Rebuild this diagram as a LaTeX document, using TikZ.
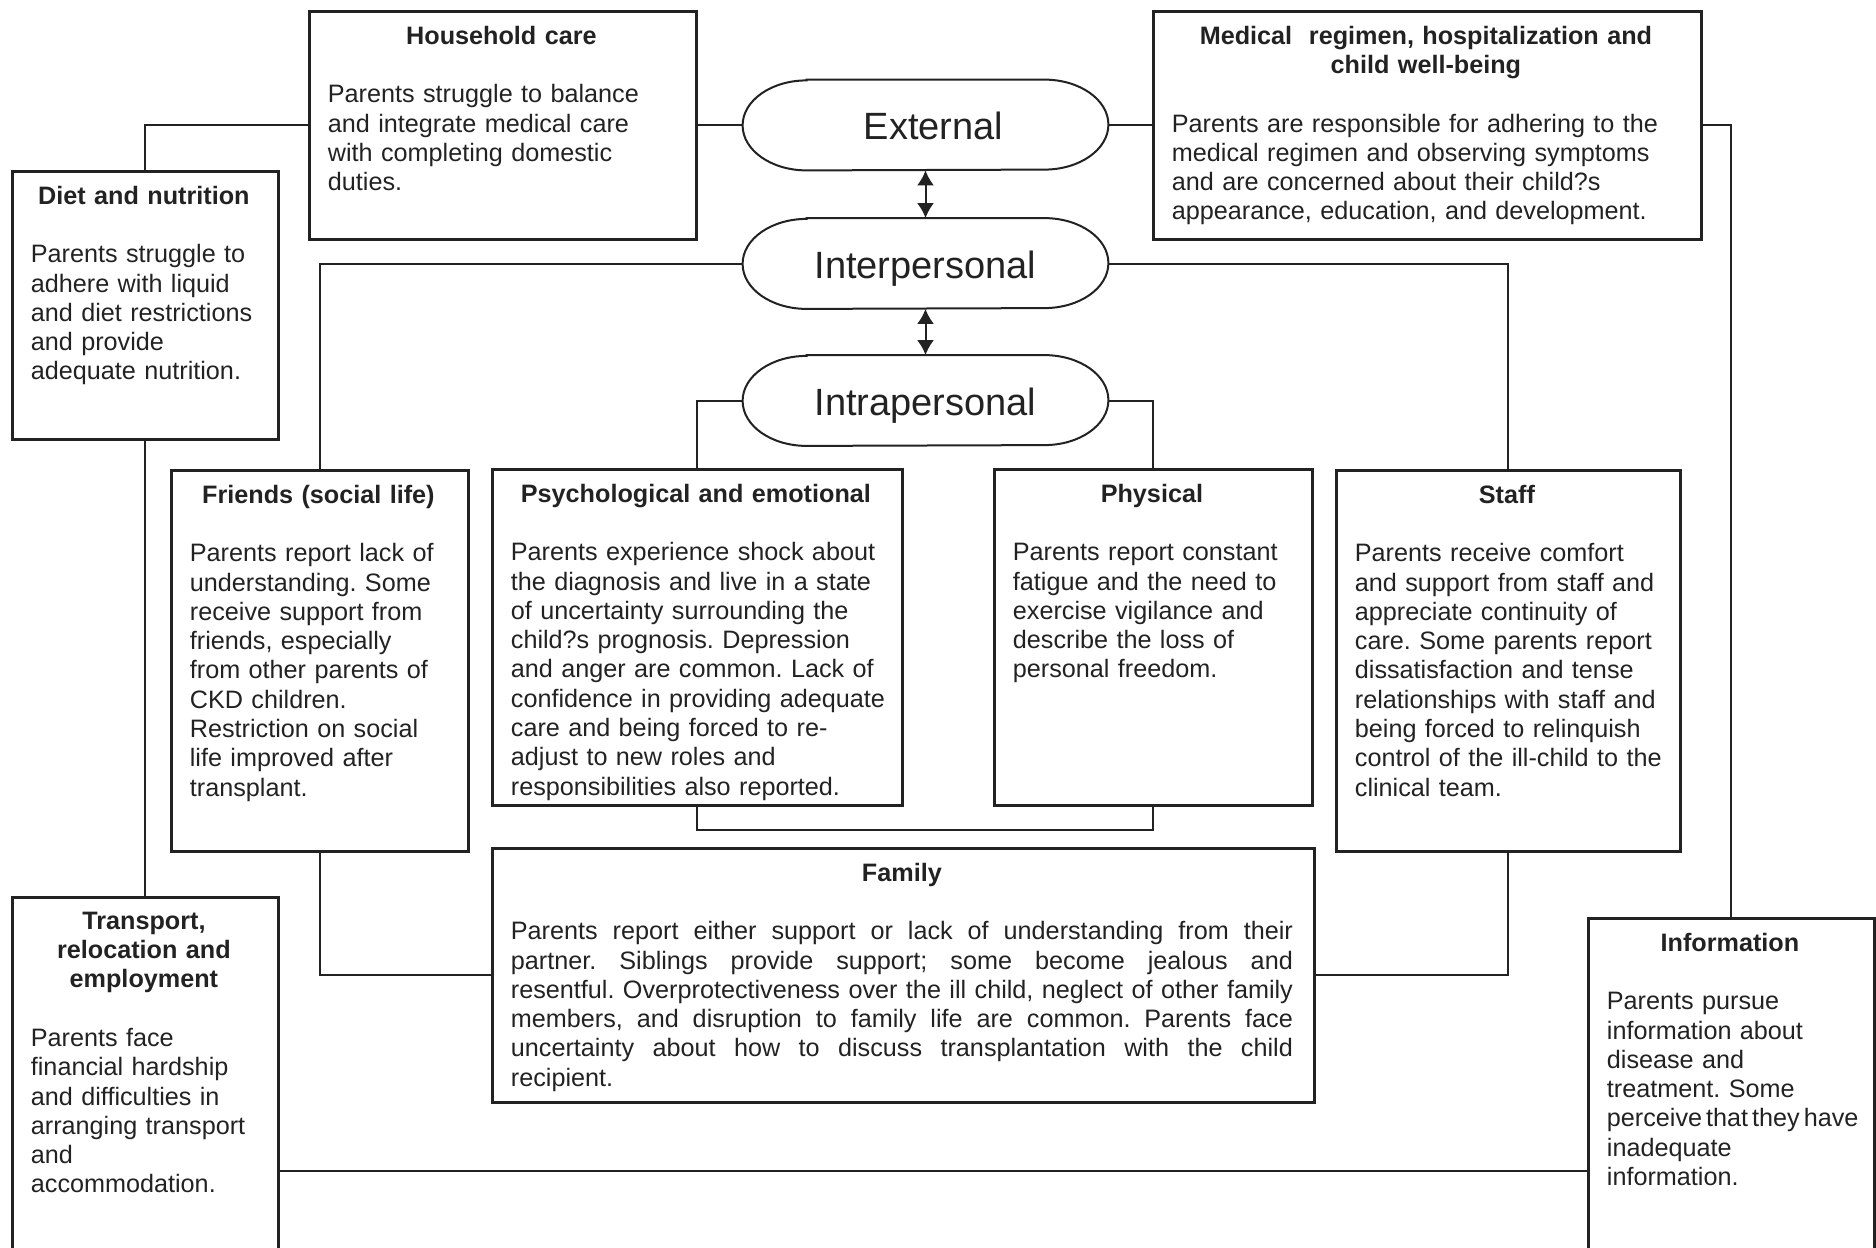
\documentclass[tikz,border=0pt]{standalone}
\usepackage{fontspec}
\setmainfont{Liberation Sans}
\usetikzlibrary{arrows.meta,positioning,calc}
\definecolor{inkgray}{HTML}{222222}
\frenchspacing
% one blank line after a heading, and room for the longest body lines
\newcommand{\gapline}{\vspace{\baselineskip}\advance\hsize by 40pt}
\newcommand{\fullline}[1]{\leavevmode\hbox to 391pt{\spaceskip=3.5pt plus 1fil\relax #1}}

\begin{document}
\begin{tikzpicture}[x=0.5pt,y=-0.5pt,
  panel/.style 2 args={draw=inkgray,line width=1.5pt,minimum width=#1,minimum height=#2,inner sep=0pt},
  blurb/.style={text=inkgray,font=\fontsize{12.6}{14.65}\selectfont,text width=#1,align=left,inner sep=0pt,anchor=north west},
  hub/.style={text=inkgray,font=\fontsize{19}{22}\selectfont,text height=14.6pt,text depth=0pt,
    minimum width=182.5pt,minimum height=45pt,inner sep=0pt},
  rim/.style={draw=inkgray,line width=1pt},
  link/.style={draw=inkgray,line width=1pt},
  >={Latex[length=7.5pt,width=8.5pt]}]
  % Page frame (boxes run off the lower edge)
  \useasboundingbox (0,0) rectangle (1876,1248);
  \clip (0,0) rectangle (1876,1248);

  % Levels
  \node[hub] (ext) at (925.5,125) {\hspace{8pt}External};
  \node[hub] (inter) at (925.5,263.5) {Interpersonal};
  \node[hub] (intra) at (925.5,400.5) {Intrapersonal};
  \foreach \n in {ext,inter,intra}
    \draw[rim] ([xshift=32pt]\n.north west) -- ([xshift=-32pt]\n.north east)
      arc[start angle=90,end angle=-90,x radius=32pt,y radius=22.5pt]
      -- ([xshift=32pt]\n.south west)
      arc[start angle=270,end angle=90,x radius=32pt,y radius=22.5pt] -- cycle;

  % External boxes
  \node[panel={193.5pt}{114pt}] (house) at (502.5,125) {};
  \node[blurb=173.5pt] (housetxt) at ([shift={(10pt,-8pt)}]house.north west)
    {{\centering\bfseries Household care\par}\gapline
     Parents struggle to balance\\ and integrate medical care\\ with completing domestic\\ duties.};
  \node[panel={274pt}{114pt}] (medical) at (1427,125) {};
  \node[blurb=254pt] (medicaltxt) at ([shift={(10pt,-8pt)}]medical.north west)
    {{\centering\bfseries Medical\ \ regimen, hospitalization and\\ child well-being\par}\gapline
     Parents are responsible for adhering to the\\ medical regimen and observing symptoms\\
     and are concerned about their child?s\\ appearance, education, and development.};
  \node[panel={133pt}{134pt}] (diet) at (145,305) {};
  \node[blurb=113pt] (diettxt) at ([shift={(10pt,-8pt)}]diet.north west)
    {{\centering\bfseries Diet and nutrition\par}\gapline
     Parents struggle to\\ adhere with liquid\\ and diet restrictions\\ and provide\\ adequate nutrition.};
  \node[panel={133pt}{274pt}] (transport) at (145,1171) {};
  \node[blurb=113pt] (transporttxt) at ([shift={(10pt,-8pt)}]transport.north west)
    {{\centering\bfseries Transport,\\ relocation and\\ employment\par}\gapline
     Parents face\\ financial hardship\\ and difficulties in\\ arranging transport\\ and\\ accommodation.};
  \node[panel={143pt}{253pt}] (info) at (1731,1171) {};
  \node[blurb=123pt] (infotxt) at ([shift={(10pt,-8pt)}]info.north west)
    {{\centering\bfseries Information\par}\gapline
     Parents pursue\\ information about\\ disease and\\ treatment. Some\\
     {\spaceskip=2pt\relax perceive that they have}\\ inadequate\\ information.};

  % Interpersonal boxes
  \node[panel={148.5pt}{190.5pt}] (friends) at (319.5,660.5) {};
  \node[blurb=128.5pt] (friendstxt) at ([shift={(10pt,-8pt)}]friends.north west)
    {{\centering\bfseries Friends (social life)\par}\gapline
     Parents report lack of\\ understanding. Some\\ receive support from\\ friends, especially\\
     from other parents of\\ CKD children.\\ Restriction on social\\ life improved after\\ transplant.};
  \node[panel={172pt}{190.5pt}] (staff) at (1508,660.5) {};
  \node[blurb=152pt] (stafftxt) at ([shift={(10pt,-8pt)}]staff.north west)
    {{\centering\bfseries Staff\par}\gapline
     Parents receive comfort\\ and support from staff and\\ appreciate continuity of\\ care. Some parents report\\
     dissatisfaction and tense\\ relationships with staff and\\ being forced to relinquish\\ control of the ill-child to the\\ clinical team.};
  \node[panel={411pt}{127pt}] (family) at (903,975) {};
  \node[blurb=391pt] (familytxt) at ([shift={(10pt,-8pt)}]family.north west)
    {{\centering\bfseries Family\par}\gapline
     \fullline{Parents report either support or lack of understanding from their}\\
     \fullline{partner. Siblings provide support; some become jealous and}\\
     \fullline{resentful. Overprotectiveness over the ill child, neglect of other family}\\
     \fullline{members, and disruption to family life are common. Parents face}\\
     \fullline{uncertainty about how to discuss transplantation with the child}\\
     recipient.};

  % Intrapersonal boxes
  \node[panel={205pt}{168pt}] (psych) at (697,637) {};
  \node[blurb=185pt] (psychtxt) at ([shift={(10pt,-8pt)}]psych.north west)
    {{\centering\bfseries Psychological and emotional\par}\gapline
     Parents experience shock about\\ the diagnosis and live in a state\\ of uncertainty surrounding the\\
     child?s prognosis. Depression\\ and anger are common. Lack of\\ confidence in providing adequate\\
     care and being forced to re-\\ adjust to new roles and\\ responsibilities also reported.};
  \node[panel={159pt}{168pt}] (phys) at (1153,637) {};
  \node[blurb=139pt] (physttxt) at ([shift={(10pt,-8pt)}]phys.north west)
    {{\centering\bfseries Physical\par}\gapline
     Parents report constant\\ fatigue and the need to\\ exercise vigilance and\\ describe the loss of\\ personal freedom.};

  % Connectors
  \foreach \a/\b in {house.east/ext.west, ext.east/medical.west, diet.south/transport.north, transport.east/info.west}
    \draw[link] (\a) -- (\b);
  \foreach \a/\b in {house.west/diet.north, medical.east/info.north, inter.west/friends.north,
                     inter.east/staff.north, intra.west/psych.north, intra.east/phys.north}
    \draw[link] (\a) -| (\b);
  \foreach \a/\b in {friends.south/family.west, staff.south/family.east}
    \draw[link] (\a) |- (\b);
  \draw[link] (psych.south) -- ++(0,23) -| (phys.south);

  % Two-way arrows between levels
  \draw[link,<->] (ext.south) -- (inter.north);
  \draw[link,<->] (inter.south) -- (intra.north);
\end{tikzpicture}
\end{document}
